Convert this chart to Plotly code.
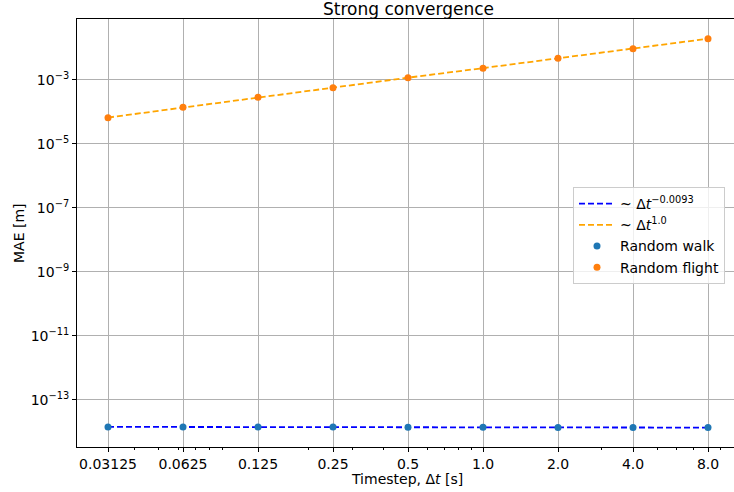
import plotly.graph_objects as go
import numpy as np

# ---- data ----
timesteps = [0.03125, 0.0625, 0.125, 0.25, 0.5, 1.0, 2.0, 4.0, 8.0]
tick_labels_x = ["0.03125", "0.0625", "0.125", "0.25", "0.5", "1.0", "2.0", "4.0", "8.0"]

mae_walk = [1.44e-14, 1.43e-14, 1.42e-14, 1.42e-14, 1.41e-14, 1.40e-14, 1.39e-14, 1.38e-14, 1.37e-14]
fit_walk = [1.44e-14, 1.43e-14, 1.42e-14, 1.41e-14, 1.40e-14, 1.39e-14, 1.39e-14, 1.38e-14, 1.37e-14]

mae_flight = [6.65e-5, 1.40e-4, 2.87e-4, 5.76e-4, 1.18e-3, 2.32e-3, 4.76e-3, 9.53e-3, 1.96e-2]
fit_flight = [6.7e-5, 1.38e-4, 2.85e-4, 5.8e-4, 1.18e-3, 2.35e-3, 4.75e-3, 9.5e-3, 1.95e-2]

y_tick_exps = [-13, -11, -9, -7, -5, -3]
x_minor = [0.04, 0.05, 0.06, 0.07, 0.08, 0.09, 0.2, 0.3, 0.4, 0.6, 0.7, 0.8, 0.9,
           3, 5, 6, 7, 9]

FONT = "DejaVu Sans"
W, H = 734, 492
L, R, T, B = 77, 0, 19, 45
PW, PH = W - L - R, H - T - B

fig = go.Figure()
fig.add_trace(go.Scatter(x=timesteps, y=fit_walk, mode="lines",
                         line=dict(color="#0000ff", width=1.8, dash="6px,3px"),
                         name="~ Δ<i>t</i><sup>−0.0093</sup>"))
fig.add_trace(go.Scatter(x=timesteps, y=fit_flight, mode="lines",
                         line=dict(color="#ffa500", width=1.8, dash="6px,3px"),
                         name="~ Δ<i>t</i><sup>1.0</sup>"))
fig.add_trace(go.Scatter(x=timesteps, y=mae_walk, mode="markers",
                         marker=dict(color="#1f77b4", size=7),
                         name="Random walk"))
fig.add_trace(go.Scatter(x=timesteps, y=mae_flight, mode="markers",
                         marker=dict(color="#ff7f0e", size=7),
                         name="Random flight"))

lg2 = np.log10(2)
x_range = [np.log10(0.03125) - 31 / 75 * lg2, np.log10(8.0) + 26 / 75 * lg2]
y_range = [-14.47, -1.094]


def px_x(px):
    return (px - L) / PW


def px_y(py):
    return (H - B - py) / PH


fig.update_layout(
    width=W, height=H,
    margin=dict(l=L, r=R, t=T, b=B, pad=0, autoexpand=False),
    paper_bgcolor="white", plot_bgcolor="white",
    font=dict(family=FONT, size=14, color="black"),
    xaxis=dict(type="log", range=x_range, automargin=False,
               tickvals=timesteps, ticktext=tick_labels_x,
               ticks="outside", ticklen=4, tickwidth=1, tickcolor="black",
               showgrid=True, gridcolor="#b0b0b0", gridwidth=1,
               showline=True, linecolor="black", linewidth=1.1, mirror=True,
               zeroline=False,
               tickfont=dict(size=14),
               minor=dict(tickvals=x_minor, ticks="outside", ticklen=2,
                          tickcolor="black", showgrid=False)),
    yaxis=dict(type="log", range=y_range, automargin=False,
               tickvals=[10.0 ** e for e in y_tick_exps],
               ticktext=[f"10<sup>−{-e}</sup>" for e in y_tick_exps],
               ticks="outside", ticklen=4, tickwidth=1, tickcolor="black",
               showgrid=True, gridcolor="#b0b0b0", gridwidth=1,
               showline=True, linecolor="black", linewidth=1.1, mirror=False,
               zeroline=False,
               tickfont=dict(size=14)),
    legend=dict(x=px_x(573), y=px_y(187),
                xanchor="left", yanchor="top",
                bgcolor="rgba(255,255,255,0.8)", bordercolor="#cccccc",
                borderwidth=1, font=dict(size=14), tracegroupgap=0,
                itemwidth=36),
    showlegend=True,
    annotations=[
        dict(text="Strong convergence", x=px_x(408), y=px_y(9),
             xref="paper", yref="paper", xanchor="center", yanchor="middle",
             showarrow=False, font=dict(size=17, color="black")),
        dict(text="Timestep, Δ<i>t</i> [s]", x=px_x(407), y=px_y(479),
             xref="paper", yref="paper", xanchor="center", yanchor="middle",
             showarrow=False, font=dict(size=14, color="black")),
        dict(text="MAE [m]", x=px_x(19), y=px_y(233), textangle=-90,
             xref="paper", yref="paper", xanchor="center", yanchor="middle",
             showarrow=False, font=dict(size=14, color="black")),
    ],
)

fig.write_html("out.html",
               config={"displayModeBar": False},
               post_script="document.body.style.margin='0';"
                           "document.body.style.overflow='hidden';")
